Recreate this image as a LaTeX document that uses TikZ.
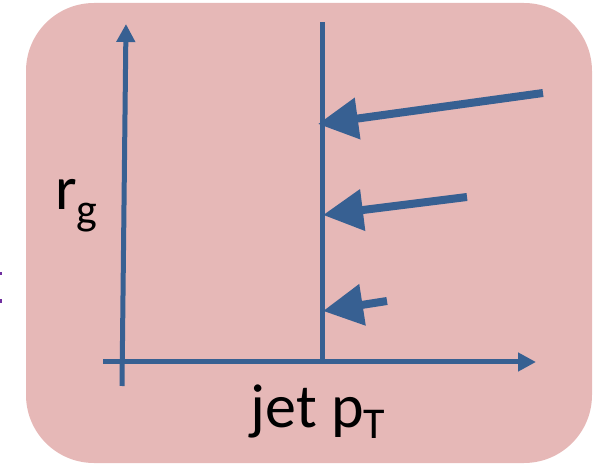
\documentclass[tikz,border=0pt]{standalone}
\usepackage{fontspec}
\setmainfont{Carlito}
\usetikzlibrary{arrows.meta,positioning}
\definecolor{boxpink}{HTML}{E6B8B7}
\definecolor{axisblue}{HTML}{376092}
\definecolor{markpurple}{HTML}{7030A0}
\newcommand{\lowsub}[2]{\raisebox{-#2}{\fontsize{44}{44}\selectfont #1}}
\tikzset{
    axisline/.style={draw=axisblue,line width=5pt},
    axisarrow/.style={axisline,-{Triangle[length=18pt,width=18pt]}},
    shiftarrow/.style={draw=axisblue,line width=8pt,-{Triangle[length=40pt,width=40pt]}},
    axislabel/.style={font=\fontsize{62}{62}\selectfont,inner sep=0pt,anchor=base}
}

\begin{document}
\begin{tikzpicture}[x=1pt,y=-1pt]
\useasboundingbox (0,0) rectangle (603,465);
\fill[boxpink,rounded corners=68pt] (26,3) rectangle (592,463);
\fill[markpurple] (0,272.5) rectangle (2,275.5);
\fill[markpurple] (0,299) rectangle (2,303);

% axes
\coordinate (yfoot) at (122,386);
\coordinate (ytip) at (126,24);
\coordinate (xfoot) at (103,362);
\coordinate (xtip) at (536,362);
\draw[axisarrow] (yfoot) -- (ytip);
\draw[axisarrow] (xfoot) -- (xtip);

% cut line
\coordinate (cuttop) at (322,22);
\coordinate (cutfoot) at (322,362);
\draw[axisline] (cutfoot) -- (cuttop);

% arrows onto the cut
\coordinate (far1) at (543,93);
\coordinate (cut1) at (318,124);
\coordinate (far2) at (467,197);
\coordinate (cut2) at (323,215);
\coordinate (far3) at (387,301);
\coordinate (cut3) at (323,311);
\draw[shiftarrow] (far1) -- (cut1);
\draw[shiftarrow] (far2) -- (cut2);
\draw[shiftarrow] (far3) -- (cut3);

% labels
\node[axislabel,anchor=base west] (ylabel) at (55,210) {r\lowsub{g}{15pt}};
\node[axislabel] (xlabel) at (318,427) {jet p\lowsub{T}{11pt}};
\end{tikzpicture}
\end{document}
